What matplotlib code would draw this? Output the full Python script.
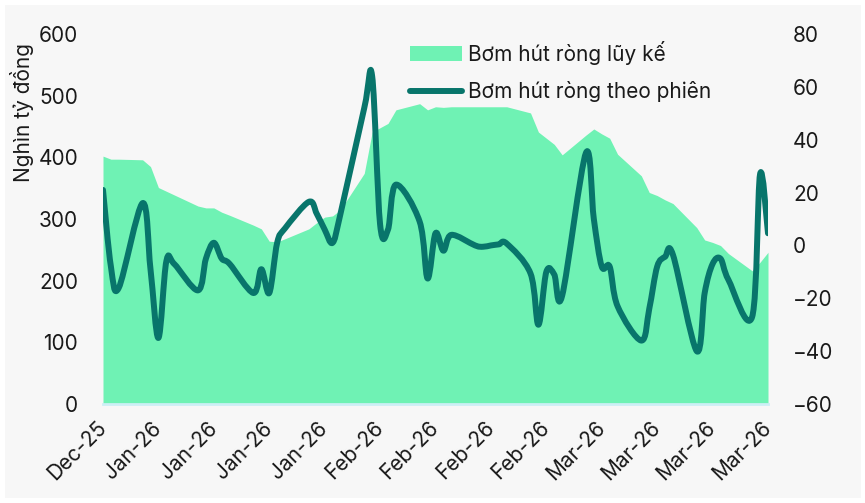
import matplotlib
matplotlib.use("Agg")
import matplotlib.pyplot as plt
import matplotlib.dates as mdates
from matplotlib.path import Path
from matplotlib.patches import PathPatch, Rectangle, Patch
from matplotlib.lines import Line2D
import numpy as np
import pandas as pd

plt.rcParams['font.family'] = ['Inter', 'DejaVu Sans']

# weekday sessions, 31/12/2025 -> 25/03/2026
dates = pd.bdate_range('2025-12-31', '2026-03-25')

# cumulative net injection (left axis, nghìn tỷ đồng)
luy_ke = [402, 397, 397,
          396, 385, 351, 345, 339,
          321, 318, 318, 311, 306,
          290, 284, 264, 263, 268,
          284, 294, 303, 305, 315,
          374, 441, 448, 455, 477,
          487, 477, 482, 481, 482,
          482, 482, 482, 482, 482,
          472, 441, 431, 421, 404,
          436, 446, 438, 431, 405,
          370, 343, 338, 331, 325,
          286, 266, 262, 257, 244,
          216, 230, 246]

# net injection per session (right axis)
theo_phien = [21, -8, -16,
              16, -9, -35, -6, -7,
              -17, -5, 1, -5, -7,
              -18, -9, -18, 1, 6.5,
              16.5, 12, 6, 1, 12,
              52, 64, 8, 6, 23,
              9, -12.5, 4.6, -2, 4,
              0, -0.5, 0, 0.4, 0.7,
              -10.6, -30, -10, -11, -19,
              35, 10, -8, -8, -23,
              -36, -24, -8, -4.3, -3.6,
              -40, -18, -7, -5, -13,
              -27, 27, 4.6]

label_area = 'Bơm hút ròng lũy kế'
label_line = 'Bơm hút ròng theo phiên'

area_color = '#6FF2B4'
line_color = '#08756B'
text_color = '#1A1A1A'
fs = 15


def smooth_path(x, y):
    # Catmull-Rom style bezier, like a smoothed spreadsheet line
    pts = np.column_stack([x, y])
    n = len(pts)
    verts = [pts[0]]
    codes = [Path.MOVETO]
    for i in range(n - 1):
        p0 = pts[max(i - 1, 0)]
        p1 = pts[i]
        p2 = pts[i + 1]
        p3 = pts[min(i + 2, n - 1)]
        verts += [p1 + (p2 - p0) / 6, p2 - (p3 - p1) / 6, p2]
        codes += [Path.CURVE4] * 3
    return Path(verts, codes)


fig = plt.figure(figsize=(8.65, 5.03), dpi=100)
fig.patch.set_facecolor('white')
fig.add_artist(Rectangle((5 / 865, 5 / 503), 856 / 865, 493 / 503,
                         transform=fig.transFigure, facecolor='#F7F7F7',
                         edgecolor='none', zorder=-10))

ax = fig.add_axes([103 / 865, 99 / 503, 665 / 865, 370 / 503])
ax.set_facecolor('none')
xnum = mdates.date2num(dates)
ax.fill_between(xnum, 0, luy_ke, color=area_color, linewidth=0)
ax.set_xlim(xnum[0], xnum[-1])
ax.set_ylim(0, 600)
ax.set_yticks(range(0, 601, 100))

ticks = pd.date_range('2025-12-31', '2026-03-25', freq='7D')
ax.set_xticks(mdates.date2num(ticks))
ax.set_xticklabels([t.strftime('%b-%y') for t in ticks], rotation=45,
                   ha='right', va='center', rotation_mode='anchor')

ax2 = ax.twinx()
ax2.set_ylim(-60, 80)
ax2.set_yticks(range(-60, 81, 20))
ax2.add_patch(PathPatch(smooth_path(xnum, np.array(theo_phien, float)),
                        fill=False, edgecolor=line_color, linewidth=4.3,
                        capstyle='round', joinstyle='round'))

for a in (ax, ax2):
    for s in a.spines.values():
        s.set_visible(False)
    a.tick_params(length=0, labelsize=fs, colors=text_color)
ax.spines['bottom'].set_visible(True)
ax.spines['bottom'].set_color('#CDEFF5')
ax.spines['bottom'].set_linewidth(2)
ax.tick_params(axis='y', pad=18)
ax.tick_params(axis='x', pad=15)
ax2.tick_params(axis='y', pad=18)

fig.text(22 / 865, 1 - 113 / 503, 'Nghìn tỷ đồng', rotation=90,
         ha='center', va='center', fontsize=fs, color=text_color)

handles = [Patch(facecolor=area_color, edgecolor='none'),
           Line2D([], [], color=line_color, linewidth=4.3,
                  solid_capstyle='round')]
ax2.legend(handles, [label_area, label_line], loc='upper left',
           bbox_to_anchor=(391 / 865, 1 - 22 / 503),
           bbox_transform=fig.transFigure, frameon=False, fontsize=fs,
           handlelength=2.5, handletextpad=0.3, labelspacing=0.8,
           labelcolor=text_color)

fig.savefig('out.png', dpi=100)
